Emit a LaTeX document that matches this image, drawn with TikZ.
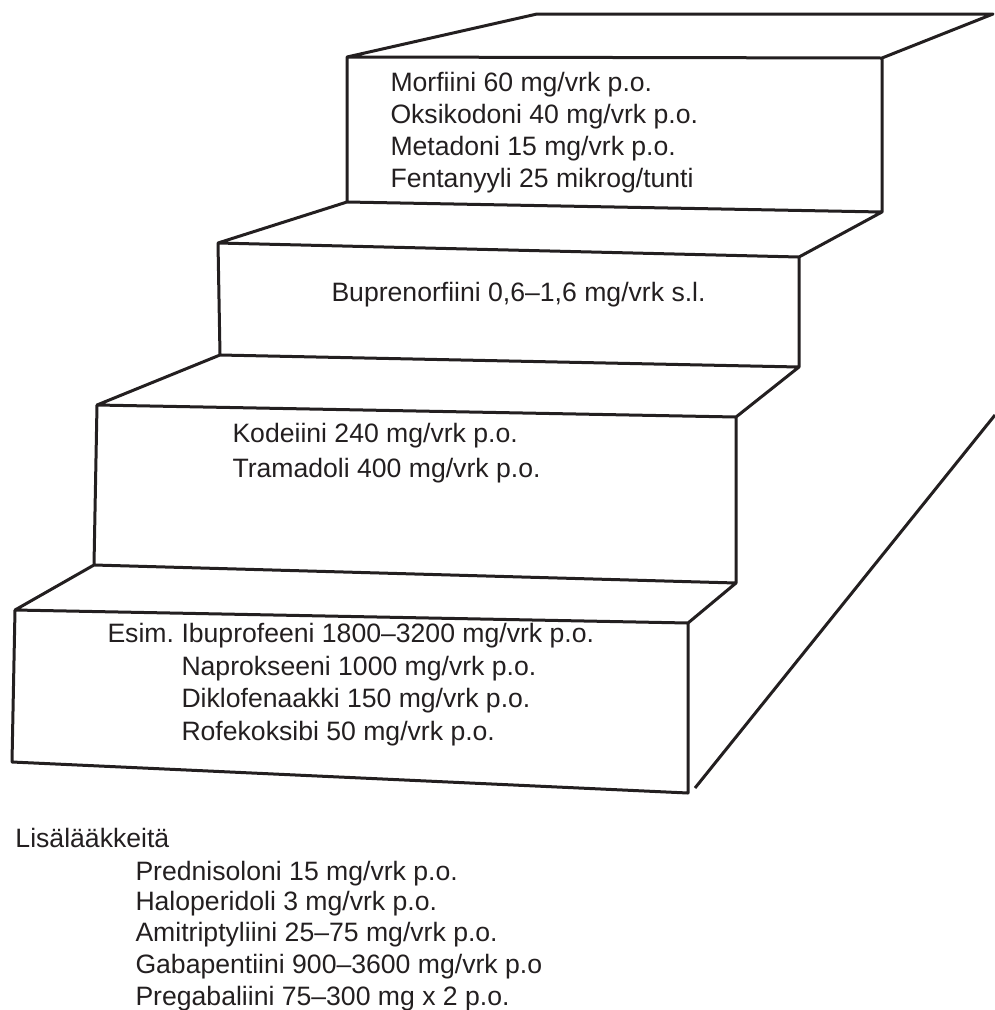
\documentclass[tikz,border=0pt]{standalone}
\usepackage{fontspec}
\setmainfont{Liberation Sans}
\definecolor{inkgray}{HTML}{231F20}
\begin{document}
\begin{tikzpicture}[x=1pt,y=-1pt,line width=3pt,line join=round,
    edge line/.style={draw=inkgray},
    drug/.style={anchor=base west,inner sep=0pt,text=inkgray,font=\fontsize{26.6}{31}\selectfont}]
        \useasboundingbox (0,0) rectangle (995,1010);

        % corners of the stairs
        \coordinate (tbl) at (537, 14);
        \coordinate (tbr) at (993, 14);
        \coordinate (tfl) at (347, 57);
        \coordinate (tfr) at (882, 58);
        \coordinate (a1) at (347, 202);
        \coordinate (a2) at (882, 212);
        \coordinate (b1) at (218, 243);
        \coordinate (b2) at (799, 257);
        \coordinate (c1) at (220, 355);
        \coordinate (c2) at (799, 367);
        \coordinate (d1) at (97, 405);
        \coordinate (d2) at (736, 417);
        \coordinate (e1) at (94, 565);
        \coordinate (e2) at (736, 583);
        \coordinate (f1) at (15, 610);
        \coordinate (f2) at (688, 623);
        \coordinate (g1) at (12, 762);
        \coordinate (g2) at (688, 793);
        \coordinate (s1) at (695, 788);
        \coordinate (s2) at (995, 415);

        \path[edge line]
            (tfl) -- (tbl) -- (tbr) -- (tfr) -- cycle
            (tfl) -- (a1) -- (a2) -- (tfr)
            (a1) -- (b1) -- (b2) -- (a2)
            (b1) -- (c1) -- (c2) -- (b2)
            (c1) -- (d1) -- (d2) -- (c2)
            (d1) -- (e1) -- (e2) -- (d2)
            (e1) -- (f1) -- (f2) -- (e2)
            (f1) -- (g1) -- (g2) -- (f2)
            (s1) -- (s2)
            ;

        % top step
        \node[drug] at (389, 91) (morf) {Morfiini 60 mg/vrk p.o.};
        \node[drug] at (389, 123) (oksi) {Oksikodoni 40 mg/vrk p.o.};
        \node[drug] at (389, 155) (meta) {Metadoni 15 mg/vrk p.o.};
        \node[drug] at (389, 187) (fent) {Fentanyyli 25 mikrog/tunti};

        % second step
        \node[drug] at (330, 301) (bupr) {Buprenorfiini 0,6--1,6 mg/vrk s.l.};

        % third step
        \node[drug] at (231, 442) (kode) {Kodeiini 240 mg/vrk p.o.};
        \node[drug] at (231, 477) (tram) {Tramadoli 400 mg/vrk p.o.};

        % bottom step
        \node[drug] at (106, 642) (esim) {Esim.};
        \node[drug] at (180, 642) (ibup) {Ibuprofeeni 1800--3200 mg/vrk p.o.};
        \node[drug] at (180, 675) (napr) {Naprokseeni 1000 mg/vrk p.o.};
        \node[drug] at (180, 707) (dikl) {Diklofenaakki 150 mg/vrk p.o.};
        \node[drug] at (180, 740) (rofe) {Rofekoksibi 50 mg/vrk p.o.};

        % extra drugs
        \node[drug] at (14, 847) (lisa) {Lisälääkkeitä};
        \node[drug] at (134, 880) (pred) {Prednisoloni 15 mg/vrk p.o.};
        \node[drug] at (134, 910) (halo) {Haloperidoli 3 mg/vrk p.o.};
        \node[drug] at (134, 941) (amit) {Amitriptyliini 25--75 mg/vrk p.o.};
        \node[drug] at (134, 973) (gaba) {Gabapentiini 900--3600 mg/vrk p.o};
        \node[drug] at (134, 1005) (preg) {Pregabaliini 75--300 mg x 2 p.o.};
\end{tikzpicture}
\end{document}
